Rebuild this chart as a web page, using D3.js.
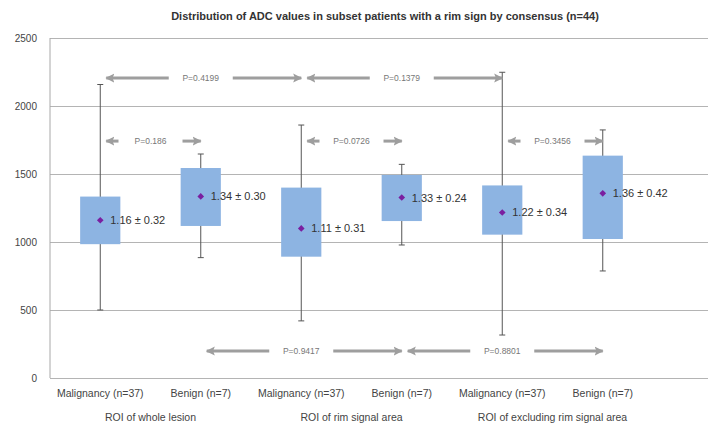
<!DOCTYPE html>
<html>
<head>
<meta charset="utf-8">
<script src="https://cdn.jsdelivr.net/npm/d3@7"></script>
<style>
  body { margin: 0; background: #fff; }
  svg { font-family: "Liberation Sans", Arial, sans-serif; }
</style>
</head>
<body>
<div id="chart"></div>
<script>
// data
var categories = ["m_whole", "b_whole", "m_rim", "b_rim", "m_excl", "b_excl"];
var tickLabels = ["Malignancy (n=37)", "Benign (n=7)", "Malignancy (n=37)", "Benign (n=7)", "Malignancy (n=37)", "Benign (n=7)"];
var groupLabels = ["ROI of whole lesion", "ROI of rim signal area", "ROI of excluding rim signal area"];
var whiskerMin = [500, 885, 420, 978, 316, 787];
var boxLow = [984, 1118, 892, 1154, 1054, 1022];
var boxHigh = [1334, 1544, 1400, 1493, 1416, 1635];
var whiskerMax = [2158, 1647, 1860, 1571, 2248, 1824];
var means = [1160, 1335, 1100, 1327, 1217, 1358];
var meanLabels = ["1.16 \u00b1 0.32", "1.34 \u00b1 0.30", "1.11 \u00b1 0.31", "1.33 \u00b1 0.24", "1.22 \u00b1 0.34", "1.36 \u00b1 0.42"];
var yTicks = [0, 500, 1000, 1500, 2000, 2500];

// p-value comparisons: from category, to category, p text, level (data units)
var compFrom = ["m_whole", "m_rim", "m_whole", "m_rim", "m_excl", "b_whole", "b_rim"];
var compTo = ["m_rim", "m_excl", "b_whole", "b_rim", "b_excl", "b_rim", "b_excl"];
var compP = ["P=0.4199", "P=0.1379", "P=0.186", "P=0.0726", "P=0.3456", "P=0.9417", "P=0.8801"];
var compLevel = [2205, 2205, 1742, 1742, 1742, 198, 198];

var width = 710, height = 430;
var margin = {top: 38, right: 2, bottom: 52, left: 50};

var svg = d3.select("#chart")
  .append("svg")
    .attr("width", width)
    .attr("height", height);

var x = d3.scaleBand()
  .domain(categories)
  .range([margin.left, 653])
  .paddingInner(0.6)
  .paddingOuter(0.3);

var y = d3.scaleLinear()
  .domain([0, 2500])
  .range([height - margin.bottom, margin.top]);

// gridlines + y labels
var yAxis = svg.append("g")
  .attr("transform", "translate(" + margin.left + ",0)")
  .call(d3.axisLeft(y).tickValues(yTicks).tickFormat(d3.format("d"))
    .tickSize(-(width - margin.right - margin.left)).tickPadding(13));
yAxis.select(".domain").remove();
yAxis.selectAll("line").attr("stroke", "#b4b4b4");
yAxis.selectAll("text").attr("fill", "#444").style("font-size", "10px");

svg.append("line")
  .attr("x1", margin.left).attr("x2", margin.left)
  .attr("y1", y(2500)).attr("y2", y(0))
  .attr("stroke", "#a8a8a8");

// x labels
var xAxis = svg.append("g")
  .attr("transform", "translate(0," + y(0) + ")")
  .call(d3.axisBottom(x).tickSize(0).tickPadding(12).tickFormat(function(d, i) { return tickLabels[i]; }));
xAxis.select(".domain").remove();
xAxis.selectAll("text").attr("fill", "#444").style("font-size", "10.5px");

svg.append("g")
  .selectAll("text")
  .data(groupLabels)
  .enter()
  .append("text")
    .attr("x", function(d, i) { return (x(categories[2 * i]) + x(categories[2 * i + 1])) / 2 + x.bandwidth() / 2; })
    .attr("y", 421)
    .attr("text-anchor", "middle")
    .attr("fill", "#444")
    .style("font-size", "10.5px")
    .text(function(d) { return d; });

// title
svg.append("text")
  .attr("x", 385)
  .attr("y", 20)
  .attr("text-anchor", "middle")
  .attr("fill", "#333")
  .style("font-size", "11px")
  .style("font-weight", "bold")
  .text("Distribution of ADC values in subset patients with a rim sign by consensus (n=44)");

var cx = function(c) { return x(c) + x.bandwidth() / 2; };

// whiskers
var boxes = svg.append("g")
  .selectAll("g")
  .data(categories)
  .enter()
  .append("g");

boxes.append("line")
  .attr("x1", function(d) { return cx(d); })
  .attr("x2", function(d) { return cx(d); })
  .attr("y1", function(d, i) { return y(whiskerMin[i]); })
  .attr("y2", function(d, i) { return y(whiskerMax[i]); })
  .attr("stroke", "#555");
boxes.append("line")
  .attr("x1", function(d) { return cx(d) - 3; })
  .attr("x2", function(d) { return cx(d) + 3; })
  .attr("y1", function(d, i) { return y(whiskerMax[i]); })
  .attr("y2", function(d, i) { return y(whiskerMax[i]); })
  .attr("stroke", "#555");
boxes.append("line")
  .attr("x1", function(d) { return cx(d) - 3; })
  .attr("x2", function(d) { return cx(d) + 3; })
  .attr("y1", function(d, i) { return y(whiskerMin[i]); })
  .attr("y2", function(d, i) { return y(whiskerMin[i]); })
  .attr("stroke", "#555");

boxes.append("rect")
  .attr("x", function(d) { return x(d); })
  .attr("width", x.bandwidth())
  .attr("y", function(d, i) { return y(boxHigh[i]); })
  .attr("height", function(d, i) { return y(boxLow[i]) - y(boxHigh[i]); })
  .attr("fill", "#8db4e2");

// mean marker: square turned 45 degrees
boxes.append("path")
  .attr("d", d3.symbol().type(d3.symbolSquare).size(22))
  .attr("transform", function(d, i) { return "translate(" + cx(d) + "," + y(means[i]) + ") rotate(45)"; })
  .attr("fill", "#7a1fa0");

boxes.append("text")
  .attr("x", function(d) { return cx(d) + 10; })
  .attr("y", function(d, i) { return y(means[i]) + 4; })
  .attr("fill", "#333")
  .style("font-size", "11px")
  .text(function(d, i) { return meanLabels[i]; });

// comparison arrows
var arrowColor = "#9e9e9e";
var defs = svg.append("defs");
defs.append("marker")
  .attr("id", "head")
  .attr("viewBox", "0 0 10 10")
  .attr("refX", 9).attr("refY", 5)
  .attr("markerWidth", 9).attr("markerHeight", 10)
  .attr("markerUnits", "userSpaceOnUse")
  .attr("orient", "auto-start-reverse")
  .append("path")
    .attr("d", "M0,0 L10,5 L0,10 L2,5 Z")
    .attr("fill", arrowColor);

var comps = svg.append("g")
  .selectAll("g")
  .data(compP)
  .enter()
  .append("g");

var gap = 32;
comps.append("line")
  .attr("x1", function(d, i) { return cx(compFrom[i]) + 6; })
  .attr("x2", function(d, i) { return (cx(compFrom[i]) + cx(compTo[i])) / 2 - gap; })
  .attr("y1", function(d, i) { return y(compLevel[i]); })
  .attr("y2", function(d, i) { return y(compLevel[i]); })
  .attr("stroke", arrowColor)
  .attr("stroke-width", 3)
  .attr("marker-start", "url(#head)");
comps.append("line")
  .attr("x1", function(d, i) { return (cx(compFrom[i]) + cx(compTo[i])) / 2 + gap; })
  .attr("x2", function(d, i) { return cx(compTo[i]); })
  .attr("y1", function(d, i) { return y(compLevel[i]); })
  .attr("y2", function(d, i) { return y(compLevel[i]); })
  .attr("stroke", arrowColor)
  .attr("stroke-width", 3)
  .attr("marker-end", "url(#head)");
comps.append("text")
  .attr("x", function(d, i) { return (cx(compFrom[i]) + cx(compTo[i])) / 2; })
  .attr("y", function(d, i) { return y(compLevel[i]) + 3; })
  .attr("text-anchor", "middle")
  .attr("fill", "#777")
  .style("font-size", "8.5px")
  .text(function(d) { return d; });
</script>
</body>
</html>
